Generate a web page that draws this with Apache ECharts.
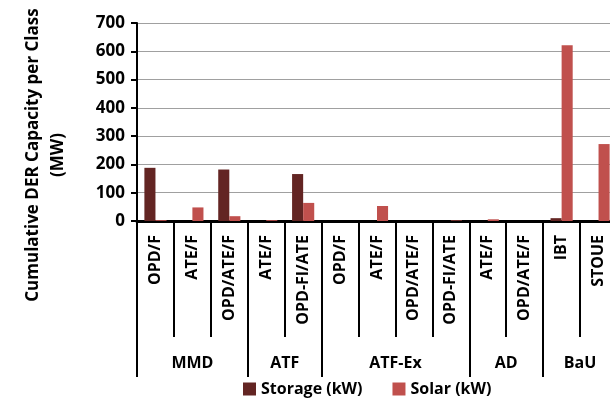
<!DOCTYPE html>
<html>
<head>
<meta charset="utf-8">
<script src="https://cdn.jsdelivr.net/npm/echarts@6/dist/echarts.min.js"></script>
<style>
  html, body { margin: 0; padding: 0; background: #fff; }
  #chart { width: 610px; height: 405px; }
</style>
</head>
<body>
<div id="chart"></div>
<script>
// sub-categories (x axis, inner row)
const subCategories = ['OPD/F', 'ATE/F', 'OPD/ATE/F', 'ATE/F', 'OPD-FI/ATE', 'OPD/F', 'ATE/F', 'OPD/ATE/F', 'OPD-FI/ATE', 'ATE/F', 'OPD/ATE/F', 'IBT', 'STOUE']
// groups and how many sub-categories each spans
const groupNames = ['MMD', 'ATF', 'ATF-Ex', 'AD', 'BaU']
const groupSizes = [3, 2, 4, 2, 2]
// values in MW
const storage = [188, 0, 182, 0, 166, 0, 0, 0, 0, 0, 0, 10, 0]
const solar = [3, 48, 17, 3, 64, 0, 53, 0, 2, 6, 0, 621, 272]
const yTitleLines = ['Cumulative DER Capacity per Class', '(MW)']

// outer axis uses half-category points so labels can sit mid-group and ticks on group edges
const halfSlots = subCategories.length * 2
const groupAxisData = new Array(halfSlots + 1).fill('')
const groupEdges = [0]
let pos = 0
groupSizes.forEach((n, i) => {
  groupAxisData[pos * 2 + n] = groupNames[i]
  pos += n
  groupEdges.push(pos * 2)
})

const font = '"Open Sans", Lato, sans-serif'
const chart = echarts.init(document.getElementById('chart'))

chart.setOption({
  backgroundColor: '#fff',
  animation: false,
  textStyle: { fontFamily: font },
  grid: { left: 137, right: -7, top: 23, bottom: 184, outerBoundsMode: 'none', containLabel: false },
  // y axis title, one rotated text per line
  graphic: yTitleLines.map((line, i) => ({
    type: 'text',
    x: 33 + i * 25,
    y: 155,
    rotation: Math.PI / 2,
    style: {
      text: line,
      fontSize: 17,
      fontWeight: 'bold',
      fontFamily: font,
      fill: '#000',
      align: 'center',
      verticalAlign: 'middle'
    }
  })),
  legend: {
    left: 238,
    bottom: 3,
    itemWidth: 13,
    itemHeight: 13,
    itemGap: 30,
    icon: 'rect',
    textStyle: { fontSize: 16, fontWeight: 'bold', color: '#000', fontFamily: font },
    data: ['Storage (kW)', 'Solar (kW)']
  },
  xAxis: [
    {
      type: 'category',
      data: subCategories,
      position: 'bottom',
      axisLine: { lineStyle: { color: '#000', width: 3 } },
      axisTick: { show: true, interval: 0, length: 116, lineStyle: { color: '#000', width: 2 } },
      axisLabel: {
        interval: 0,
        rotate: 90,
        margin: 14,
        fontSize: 16,
        fontWeight: 'bold',
        color: '#000',
        fontFamily: font
      }
    },
    {
      type: 'category',
      data: groupAxisData,
      boundaryGap: false,
      position: 'bottom',
      offset: 0,
      axisLine: { show: false },
      axisTick: {
        show: true,
        length: 156,
        interval: (idx) => groupEdges.includes(idx),
        lineStyle: { color: '#000', width: 2 }
      },
      axisLabel: {
        interval: 0,
        margin: 134,
        fontSize: 16,
        fontWeight: 'bold',
        color: '#000',
        fontFamily: font
      }
    }
  ],
  yAxis: {
    type: 'value',
    min: 0,
    max: 700,
    interval: 100,
    axisLine: { show: true, lineStyle: { color: '#000', width: 2 } },
    axisTick: { show: true, length: 6, lineStyle: { color: '#000', width: 2 } },
    axisLabel: { margin: 12, fontSize: 17, fontWeight: 'bold', color: '#000', fontFamily: font },
    splitLine: { lineStyle: { color: '#a0a0a0', width: 1 } }
  },
  series: [
    {
      name: 'Storage (kW)',
      type: 'bar',
      data: storage,
      barGap: '0%',
      barCategoryGap: '40%',
      itemStyle: { color: '#632523' }
    },
    {
      name: 'Solar (kW)',
      type: 'bar',
      data: solar,
      barGap: '0%',
      barCategoryGap: '40%',
      itemStyle: { color: '#C0504D' }
    }
  ]
})
</script>
</body>
</html>
